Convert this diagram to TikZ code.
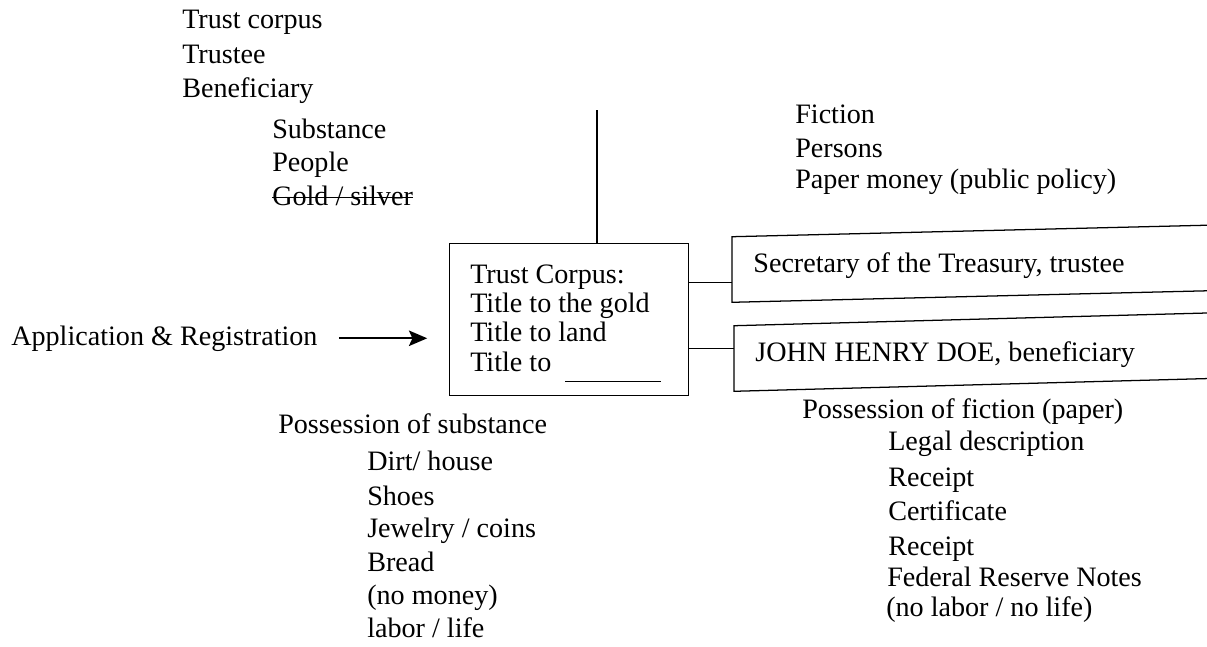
\documentclass[tikz,border=0pt]{standalone}
\usepackage{fontspec}
\setmainfont{Liberation Serif}
\usetikzlibrary{arrows.meta}

\tikzset{
  lbl/.style={anchor=base west, inner sep=0pt, font=\fontsize{20}{24}\selectfont},
  box/.style={draw, line width=0.9pt, inner sep=0pt},
  tagbox/.style={anchor=west, minimum height=1.625cm, text width=12cm, inner xsep=15pt,
    inner ysep=0pt, align=flush left, text height=12pt, text depth=8pt,
    font=\fontsize{20}{24}\selectfont},
  arr/.style={-{Stealth[length=13pt,width=11pt,inset=2.5pt]}, line width=1.4pt},
}

\begin{document}
\begin{tikzpicture}[x=0.025cm, y=-0.025cm]
        \clip (0,0) rectangle (1207,646);
        % Trust corpus box
        \node[box, minimum width=5.975cm, minimum height=3.8cm, anchor=north west] (corpus) at (449,243) {};
        \node[lbl] (tc1) at (470,283) {Trust Corpus:};
        \node[lbl] (tc2) at (470,312) {Title to the gold};
        \node[lbl] (tc3) at (470,341) {Title to land};
        \node[lbl] (tc4) at (470,371) {Title to\hspace{10pt}\rule[-8pt]{68pt}{0.9pt}};
        % Trustee and beneficiary (outlines run off the page, a bit skewed)
        \node[tagbox] (sec) at (732,269.5) {Secretary of the Treasury, trustee};
        \node[tagbox] (doe) at (734,358.5) {JOHN HENRY DOE, beneficiary};
        \draw[line width=0.9pt] (sec.north west) -- ([yshift=9pt]sec.north east) -- ([yshift=9pt]sec.south east) -- (sec.south west) -- cycle;
        \draw[line width=0.9pt] (doe.north west) -- ([yshift=10pt]doe.north east) -- ([yshift=10pt]doe.south east) -- (doe.south west) -- cycle;
        \draw[line width=0.9pt] (corpus.east) ++(0,-37) coordinate (c1) -- (sec.west |- c1);
        \draw[line width=0.9pt] (corpus.east) ++(0,29) coordinate (c2) -- (doe.west |- c2);
        % Line up from the box
        \coordinate (top) at (597,110);
        \draw[line width=0.9pt] (top) -- (top |- corpus.north);
        % Application arrow
        \node[lbl] (appl) at (11,345) {Application \& Registration};
        \draw[arr, shorten <=15pt, shorten >=15.5pt] (appl.east) -- (appl.east -| corpus.west);
        % Labels, upper left
        \node[lbl] (corp) at (182,28) {Trust corpus};
        \node[lbl] (tee) at (182,63) {Trustee};
        \node[lbl] (ben) at (182,97) {Beneficiary};
        \node[lbl] (subst) at (272,138) {Substance};
        \node[lbl] (ppl) at (272,171) {People};
        \node[lbl] (gold) at (272,205) {Gold / silver};
        \draw[line width=0.9pt] ([yshift=5.5pt]gold.base west) -- ([yshift=5.5pt]gold.base east);
        % Labels, upper right
        \node[lbl] (fict) at (795,123) {Fiction};
        \node[lbl] (pers) at (795,157) {Persons};
        \node[lbl] (paper) at (795,188) {Paper money (public policy)};
        % Labels, lower left
        \node[lbl] (psub) at (278,433) {Possession of substance};
        \node[lbl] (dirt) at (367,470) {Dirt/ house};
        \node[lbl] (shoes) at (367,505) {Shoes};
        \node[lbl] (jewel) at (367,537) {Jewelry / coins};
        \node[lbl] (bread) at (367,571) {Bread};
        \node[lbl] (nomoney) at (367,604) {(no money)};
        \node[lbl] (labor) at (367,637) {labor / life};
        % Labels, lower right
        \node[lbl] (pfic) at (802,418) {Possession of fiction (paper)};
        \node[lbl] (legal) at (888,450) {Legal description};
        \node[lbl] (rec1) at (888,486) {Receipt};
        \node[lbl] (cert) at (888,520) {Certificate};
        \node[lbl] (rec2) at (888,555) {Receipt};
        \node[lbl] (frn) at (887,586) {Federal Reserve Notes};
        \node[lbl] (nolabor) at (886,616) {(no labor / no life)};
    \end{tikzpicture}
\end{document}
